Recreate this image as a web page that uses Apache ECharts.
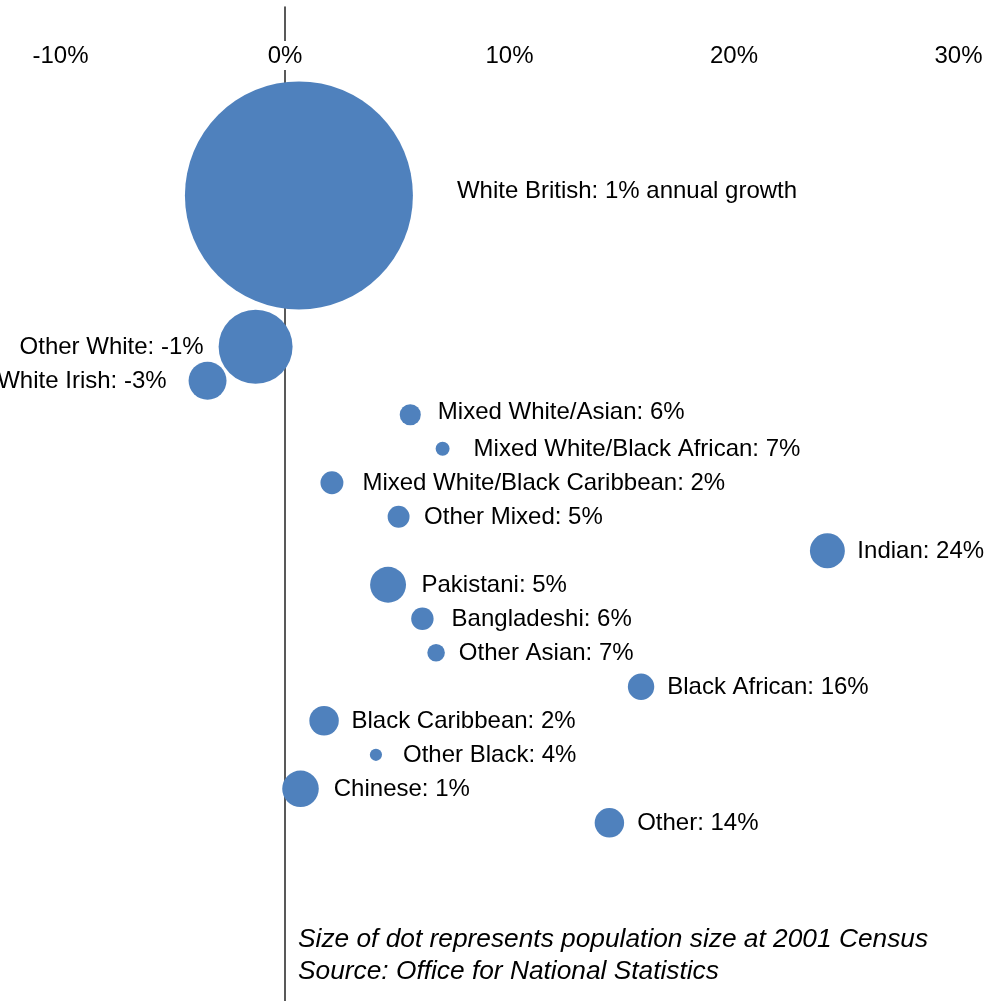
<!DOCTYPE html>
<html>
<head>
<meta charset="utf-8">
<script src="https://cdn.jsdelivr.net/npm/echarts@6/dist/echarts.min.js"></script>
<style>
  html, body { margin: 0; padding: 0; background: #fff; }
  #chart { width: 990px; height: 1001px; }
</style>
</head>
<body>
<div id="chart"></div>
<script>
// ---- data ----
const categories = ['White British', 'Other White', 'White Irish', 'Mixed White/Asian',
  'Mixed White/Black African', 'Mixed White/Black Caribbean', 'Other Mixed', 'Indian',
  'Pakistani', 'Bangladeshi', 'Other Asian', 'Black African', 'Black Caribbean',
  'Other Black', 'Chinese', 'Other'];
// annual growth (%), x axis
const growthPct = [0.62, -1.31, -3.45, 5.58, 7.02, 2.09, 5.06, 24.16, 4.59, 6.12, 6.73,
  15.86, 1.74, 4.05, 0.69, 14.45];
// vertical ordering value (y axis, top to bottom)
const rowOrder = [-3.45, 1, 2, 3, 4, 5, 6, 7, 8, 9, 10, 11, 12, 13, 14, 15];
// population at 2001 Census (thousands)
const populationK = [45500, 4790, 1260, 390, 170, 460, 420, 1070, 1130, 440, 270, 610,
  760, 130, 1170, 760];
const xTicks = [-10, 0, 10, 20, 30];
const noteLines = ['Size of dot represents population size at 2001 Census',
  'Source: Office for National Statistics'];

// ---- styling (not data) ----
const DOT = '#4F81BD';
const FONT = '"Liberation Sans", Arial, sans-serif';
const labelStyle = {
  'White British': { pos: 'right', dist: 44, dy: -5, suffix: ' annual growth' },
  'Other White': { pos: 'left', dist: 15 },
  'White Irish': { pos: 'left', dist: 22 },
  'Mixed White/Asian': { pos: 'right', dist: 17, dy: -3 },
  'Mixed White/Black African': { pos: 'right', dist: 24 },
  'Mixed White/Black Caribbean': { pos: 'right', dist: 19 },
  'Other Mixed': { pos: 'right', dist: 14.5 },
  'Indian': { pos: 'right', dist: 12.5 },
  'Pakistani': { pos: 'right', dist: 15.5 },
  'Bangladeshi': { pos: 'right', dist: 18 },
  'Other Asian': { pos: 'right', dist: 14 },
  'Black African': { pos: 'right', dist: 13 },
  'Black Caribbean': { pos: 'right', dist: 12.7 },
  'Other Black': { pos: 'right', dist: 21 },
  'Chinese': { pos: 'right', dist: 15 },
  'Other': { pos: 'right', dist: 13 }
};
const maxPop = Math.max.apply(null, populationK);
const MAX_DIAM = 228;

const seriesData = categories.map(function (name, i) {
  const ls = labelStyle[name] || { pos: 'right', dist: 14 };
  return {
    name: name,
    value: [growthPct[i], rowOrder[i], populationK[i]],
    label: {
      show: true,
      position: ls.pos,
      distance: ls.dist,
      offset: [0, (ls.dy || 0) + 1],
      formatter: name + ': ' + Math.round(growthPct[i]) + '%' + (ls.suffix || '')
    }
  };
});

const chart = echarts.init(document.getElementById('chart'), null, { renderer: 'canvas' });
chart.setOption({
  animation: false,
  backgroundColor: '#fff',
  grid: { left: 60.5, right: 31.5, top: 7, bottom: 0, containLabel: false },
  xAxis: {
    type: 'value',
    position: 'top',
    min: xTicks[0],
    max: xTicks[xTicks.length - 1],
    interval: xTicks[1] - xTicks[0],
    z: 10,
    axisLine: { show: false },
    axisTick: { show: false },
    splitLine: { show: false },
    axisLabel: {
      inside: true,
      margin: 34,
      formatter: '{value}%',
      color: '#000',
      fontSize: 24,
      fontFamily: FONT,
      backgroundColor: '#fff',
      padding: [3, 3, 2, 3]
    }
  },
  yAxis: {
    type: 'value',
    inverse: true,
    min: -8.99,
    max: 20.24,
    axisLine: { show: true, onZero: true, lineStyle: { color: '#222', width: 1.5 } },
    axisTick: { show: false },
    axisLabel: { show: false },
    splitLine: { show: false }
  },
  series: [{
    type: 'scatter',
    clip: false,
    data: seriesData,
    symbol: 'circle',
    symbolSize: function (v) { return MAX_DIAM * Math.sqrt(v[2] / maxPop); },
    itemStyle: { color: DOT, opacity: 1 },
    label: { color: '#000', fontSize: 24, fontFamily: FONT },
    emphasis: { disabled: true }
  }],
  graphic: [{
    type: 'text',
    left: 298,
    top: 924,
    style: {
      text: noteLines.join('\n'),
      fill: '#000',
      font: 'italic 26.3px ' + FONT,
      lineHeight: 32
    }
  }]
});
</script>
</body>
</html>
